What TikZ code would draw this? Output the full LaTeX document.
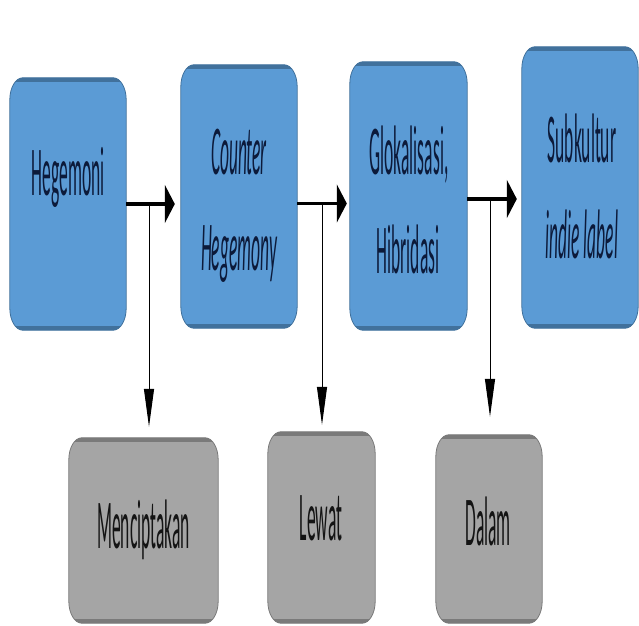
\documentclass[tikz,border=0pt]{standalone}
\usepackage{fontspec}
\setmainfont{Carlito}
\usetikzlibrary{arrows.meta,calc}
\definecolor{boxblue}{HTML}{5B9BD5}
\definecolor{boxblued}{HTML}{41719C}
\definecolor{boxgray}{HTML}{A5A5A5}
\definecolor{boxgrayd}{HTML}{7A7A7A}
\definecolor{navytext}{HTML}{0C1A3A}
\newcommand\eboxshape[1]{($(#1.south west)+(0,22pt)$) -- ($(#1.north west)+(0,-22pt)$) arc[start angle=180,end angle=90,x radius=13pt,y radius=22pt] -- ($(#1.north east)+(-13pt,0)$) arc[start angle=90,end angle=0,x radius=13pt,y radius=22pt] -- ($(#1.south east)+(0,22pt)$) arc[start angle=0,end angle=-90,x radius=13pt,y radius=22pt] -- ($(#1.south west)+(13pt,0)$) arc[start angle=-90,end angle=-180,x radius=13pt,y radius=22pt] -- cycle}
\newcommand\ebox[3]{%
  \fill[#2] \eboxshape{#1};
  \begin{scope}
    \clip \eboxshape{#1};
    \fill[#3] ($(#1.north west)+(-2pt,2pt)$) rectangle ($(#1.north east)+(2pt,-4.5pt)$);
    \fill[#3] ($(#1.south west)+(-2pt,-2pt)$) rectangle ($(#1.south east)+(2pt,4.5pt)$);
  \end{scope}
  \draw[#3, line width=0.8pt] \eboxshape{#1};
}
\newcommand\sq[1]{\scalebox{0.25}[1]{#1}}
\tikzset{
  boxn/.style={draw=none, fill=none, inner sep=0pt},
  lbl/.style={anchor=base, inner sep=0pt, font=\fontsize{70}{84}\selectfont},
  blbl/.style={lbl, text=navytext},
  glbl/.style={lbl, text=black!92},
  harrow/.style={line width=3.5pt, -{Triangle[length=10pt,width=38pt]}},
  varrow/.style={line width=1pt, -{Triangle[length=38pt,width=10pt]}}
}
\begin{document}
\begin{tikzpicture}[x=1pt,y=1pt]
\useasboundingbox (0,0) rectangle (639,625);
% box nodes
\node[boxn, minimum width=116pt, minimum height=252pt] (b1) at (68,421) {};
\node[boxn, minimum width=116pt, minimum height=263pt] (b2) at (239,428.5) {};
\node[boxn, minimum width=117pt, minimum height=268pt] (b3) at (408.5,429) {};
\node[boxn, minimum width=116pt, minimum height=281pt] (b4) at (580,437.5) {};
\node[boxn, minimum width=149pt, minimum height=185pt] (g1) at (143.5,94.5) {};
\node[boxn, minimum width=107pt, minimum height=191pt] (g2) at (321.5,97.5) {};
\node[boxn, minimum width=106pt, minimum height=188pt] (g3) at (489,96) {};
\ebox{b1}{boxblue}{boxblued}
\ebox{b2}{boxblue}{boxblued}
\ebox{b3}{boxblue}{boxblued}
\ebox{b4}{boxblue}{boxblued}
\ebox{g1}{boxgray}{boxgrayd}
\ebox{g2}{boxgray}{boxgrayd}
\ebox{g3}{boxgray}{boxgrayd}
% texts
\node[blbl] (t1) at (68,430) {\sq{Hegemoni}};
\node[blbl] (t2a) at (239,450) {\sq{\itshape Counter}};
\node[blbl] (t2b) at (239,355) {\sq{\itshape Hegemony}};
\node[blbl] (t3a) at (409,450) {\sq{Glokalisasi,}};
\node[blbl] (t3b) at (408,352) {\sq{Hibridasi}};
\node[blbl] (t4a) at (582,462) {\sq{Subkultur}};
\node[blbl] (t4b) at (582,367) {\sq{\itshape indie label}};
\node[glbl] (t5) at (143.5,77) {\sq{Menciptakan}};
\node[glbl] (t6) at (321,85) {\sq{Lewat}};
\node[glbl] (t7) at (488,80) {\sq{Dalam}};
% horizontal connectors
\draw[harrow, shorten >=6pt] (b1.east) -- (b1.east -| b2.west);
\draw[harrow, shorten >=3pt] ([yshift=-7pt]b2.east) -- ([yshift=-7pt]b2.east -| b3.west);
\draw[harrow, shorten >=5pt] ([yshift=-3pt]b3.east) -- ([yshift=-3pt]b3.east -| b4.west);
% junctions
\coordinate (j1) at (149,421);
\coordinate (j2) at (322,421.5);
\coordinate (j3) at (490,426);
\draw[varrow, shorten >=11pt] (j1) -- (j1 |- g1.north);
\draw[varrow, shorten >=7pt] (j2) -- (j2 |- g2.north);
\draw[varrow, shorten >=18pt] (j3) -- (j3 |- g3.north);
\end{tikzpicture}
\end{document}
